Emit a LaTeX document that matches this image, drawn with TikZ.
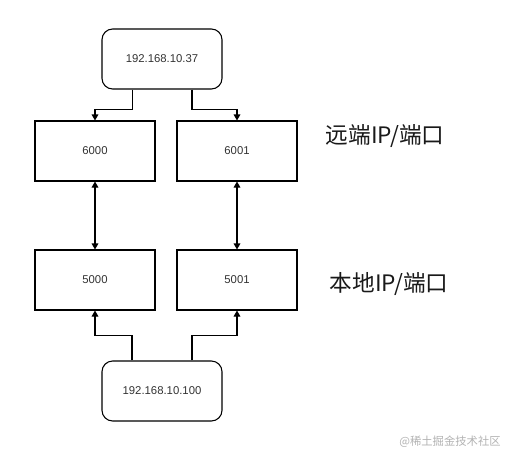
\documentclass[tikz,border=0pt]{standalone}
\usepackage{fontspec}
\setmainfont{Liberation Sans}
\newfontfamily\cjk{Noto Sans CJK SC}
\usetikzlibrary{arrows.meta}
\tikzset{
  host/.style={draw, line width=0.8pt, rounded corners=8pt, minimum width=90pt, minimum height=45pt, font=\fontsize{8.5}{10}\selectfont, text=black!80},
  port/.style={draw, line width=0.8pt, minimum width=90pt, minimum height=45pt, font=\fontsize{8.5}{10}\selectfont, text=black!80},
  link/.style={line width=0.8pt, -{Triangle[length=4.5pt,width=5pt]}},
  both/.style={line width=0.8pt, {Triangle[length=4.5pt,width=5pt]}-{Triangle[length=4.5pt,width=5pt]}},
  side/.style={font=\cjk\fontsize{17}{20}\selectfont, text=black!90}
}
\begin{document}
\begin{tikzpicture}[x=0.75pt,y=-0.75pt]
        \useasboundingbox (0,0) rectangle (510,460);
        \node[host] (remote) at (162,59) {192.168.10.37};
        \node[port] (r0) at (95,151) {6000};
        \node[port] (r1) at (237,151) {6001};
        \node[port] (l0) at (95,280) {5000};
        \node[port] (l1) at (237,280) {5001};
        \node[host] (local) at (162,391) {192.168.10.100};
        \node[side] (rlab) at (385,136) {远端IP/端口};
        \node[side] (llab) at (389,284) {本地IP/端口};
        \node[font=\cjk\fontsize{8.5}{10}\selectfont, text=black!30] (mark) at (450,442) {@稀土掘金技术社区};

        \draw[link] ([xshift=-22pt]remote.south) -- ++(0,-15pt) -| (r0.north);
        \draw[link] ([xshift=22.5pt]remote.south) -- ++(0,-15pt) -| (r1.north);
        \draw[both] (r0.south) -- (l0.north);
        \draw[both] (r1.south) -- (l1.north);
        \draw[link] ([xshift=-22.5pt]local.north) -- ++(0,19pt) -| (l0.south);
        \draw[link] ([xshift=22.5pt]local.north) -- ++(0,19pt) -| (l1.south);
\end{tikzpicture}
\end{document}
